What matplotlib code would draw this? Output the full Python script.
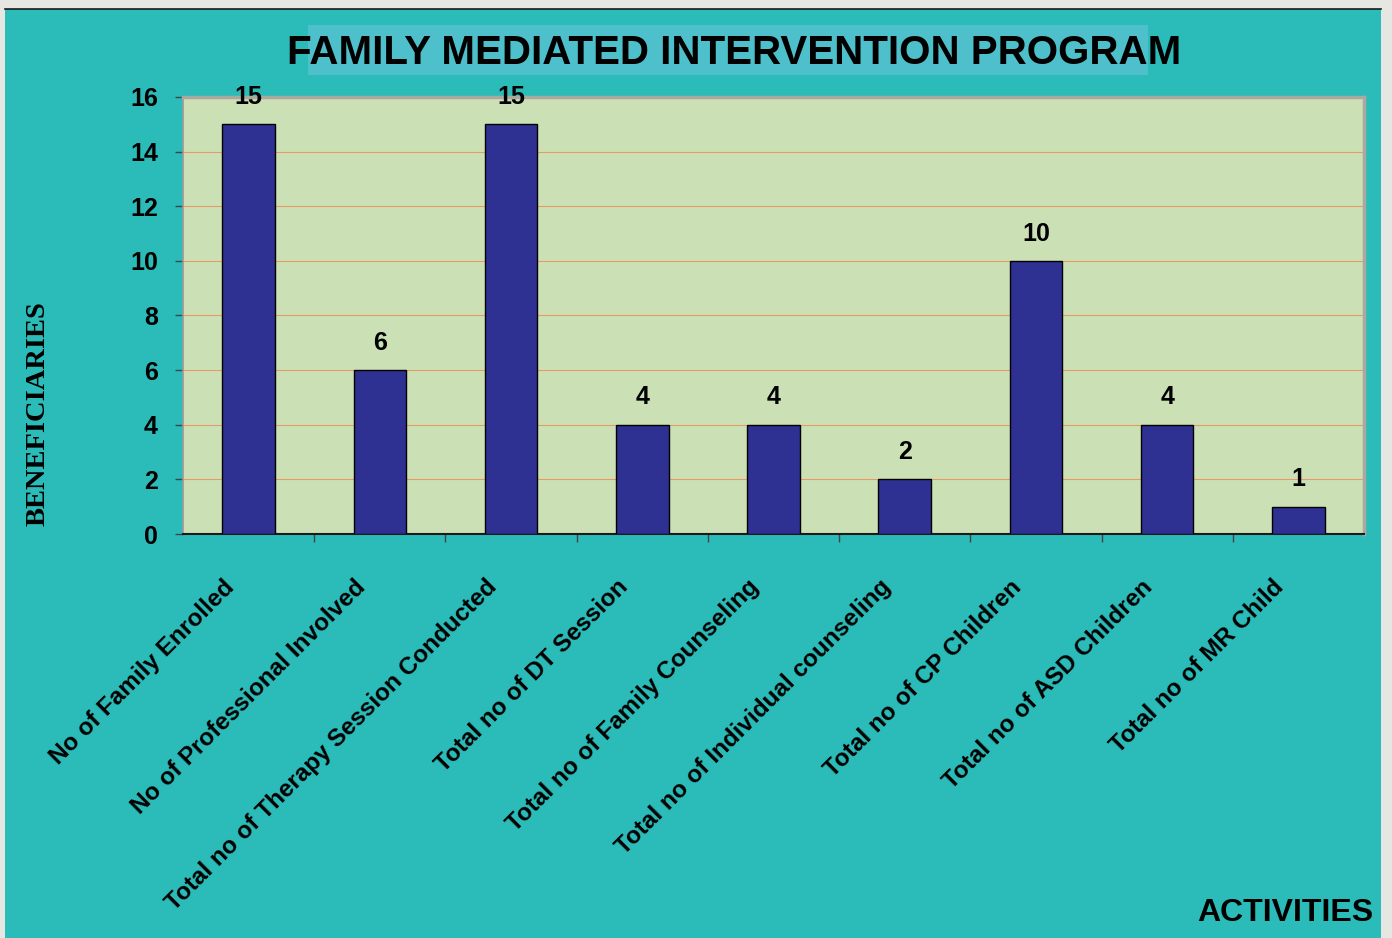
import matplotlib
matplotlib.use("Agg")
import matplotlib.pyplot as plt
from matplotlib.patches import Rectangle
from matplotlib.lines import Line2D
from matplotlib.transforms import ScaledTranslation

categories = [
    "No of Family Enrolled",
    "No of Professional Involved",
    "Total no of Therapy Session Conducted",
    "Total no of DT Session",
    "Total no of Family Counseling",
    "Total no of Individual counseling",
    "Total no of CP Children",
    "Total no of ASD Children",
    "Total no of MR Child",
]
values = [15, 6, 15, 4, 4, 2, 10, 4, 1]
yticks = [0, 2, 4, 6, 8, 10, 12, 14, 16]

title = "FAMILY MEDIATED INTERVENTION PROGRAM"
ylabel = "BENEFICIARIES"
xlabel = "ACTIVITIES"

sans = "Liberation Sans"
serif = "Liberation Serif"

TEAL = "#2bbbb9"
TITLEBOX = "#4ec0cc"
GREEN = "#cbe1b5"
NAVY = "#2e3192"
GRID = "#e8996a"

W, H = 1392, 938
fig = plt.figure(figsize=(W / 100, H / 100), dpi=100)
fig.patch.set_facecolor("#e6e7e3")

# teal panel
fig.patches.append(Rectangle((5 / W, 0), (1381 - 5) / W, (938 - 9) / H,
                             transform=fig.transFigure, facecolor=TEAL,
                             edgecolor="none", zorder=-2))
fig.lines.append(Line2D([5 / W, 1381 / W], [1 - 9 / H, 1 - 9 / H],
                        transform=fig.transFigure, color="#1a1a1a", lw=1.2,
                        zorder=-1))
# title highlight
fig.patches.append(Rectangle((308 / W, 1 - 75 / H), (1148 - 308) / W, 50 / H,
                             transform=fig.transFigure, facecolor=TITLEBOX,
                             edgecolor="none", zorder=-1))

ax = fig.add_axes([183 / W, 1 - 534 / H, (1364 - 183) / W, (534 - 97) / H])
ax.set_zorder(2)
ax.set_facecolor(GREEN)

x = list(range(len(categories)))
bars = ax.bar(x, values, width=0.40, color=NAVY, edgecolor="black",
              linewidth=1.0, zorder=3)

ax.set_xlim(-0.5, len(categories) - 0.5)
ax.set_ylim(0, 16)
ax.set_yticks(yticks)
ax.set_yticklabels([str(t) for t in yticks], fontfamily=sans,
                   fontweight="bold", fontsize=18)
ax.yaxis.grid(True, color=GRID, linewidth=0.8, zorder=1)
ax.set_axisbelow(True)

ax.tick_params(axis="y", direction="out", length=6, width=1, color="#444444",
               pad=12)

ax.set_xticks(x)
ax.set_xticklabels(categories, rotation=45, ha="right", va="top",
                   rotation_mode="anchor", fontfamily=sans,
                   fontweight="bold", fontsize=17.5)
ax.tick_params(axis="x", which="major", length=0, pad=30)
ax.set_xticks([i + 0.5 for i in x[:-1]], minor=True)
ax.tick_params(axis="x", which="minor", direction="out", length=6,
               width=1, color="#444444")
off = ScaledTranslation(-0.26, 0, fig.dpi_scale_trans)
for lab in ax.get_xticklabels():
    lab.set_transform(lab.get_transform() + off)

for s in ["top", "right"]:
    ax.spines[s].set_color("#a9a9a0")
    ax.spines[s].set_linewidth(2.5)
ax.spines["left"].set_color("#9a9a9a")
ax.spines["left"].set_linewidth(1.2)
ax.spines["bottom"].set_color("#1a1a1a")
ax.spines["bottom"].set_linewidth(1.5)

for b, v in zip(bars, values):
    ax.annotate(str(v), (b.get_x() + b.get_width() / 2, v),
                xytext=(0, 11), textcoords="offset points",
                ha="center", va="bottom", fontfamily=sans,
                fontweight="bold", fontsize=18, annotation_clip=False)

fig.text(734 / W, 1 - 53 / H, title, ha="center", va="center",
         fontfamily=sans, fontweight="bold", fontsize=29)
fig.text(38 / W, 1 - 414 / H, ylabel, rotation=90, ha="center",
         va="center", fontfamily=serif, fontweight="bold", fontsize=20.5)
fig.text(1373 / W, 1 - 913 / H, xlabel, ha="right", va="center",
         fontfamily=sans, fontweight="bold", fontsize=23)

fig.savefig("out.png", dpi=100, facecolor=fig.get_facecolor())
